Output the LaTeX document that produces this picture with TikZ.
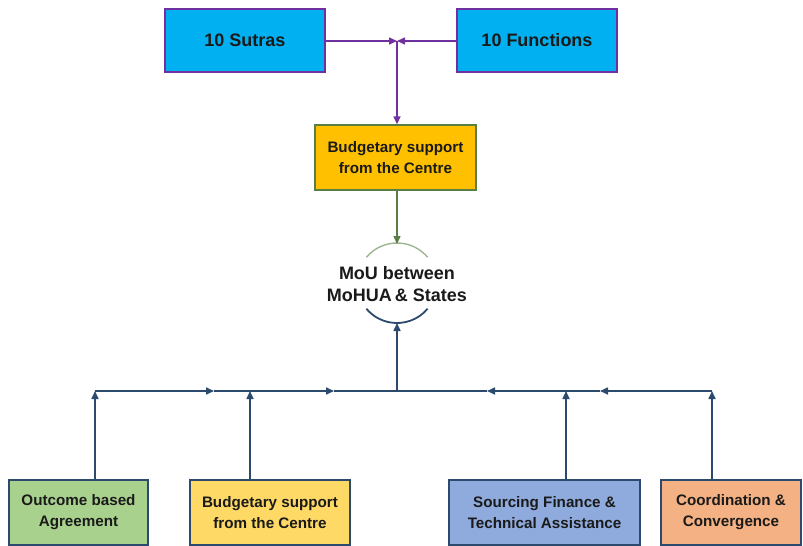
\documentclass[tikz,border=0pt]{standalone}
\usepackage{fontspec}
\setmainfont{Liberation Sans}
\usetikzlibrary{arrows.meta}
\definecolor{sky}{HTML}{00B0F0}
\definecolor{violet}{HTML}{7030A0}
\definecolor{gold}{HTML}{FFC000}
\definecolor{leaf}{HTML}{5A7F45}
\definecolor{navy}{HTML}{2B4A6E}
\definecolor{mougreen}{HTML}{9FB58F}
\definecolor{green1}{HTML}{A9D18E}
\definecolor{yellow1}{HTML}{FFD966}
\definecolor{blue1}{HTML}{8FAADC}
\definecolor{orange1}{HTML}{F4B183}
\definecolor{ink}{HTML}{1A1A1A}
\begin{document}
\begin{tikzpicture}[x=1pt,y=-1pt,
    tip/.style={-{Triangle[length=8pt,width=7pt]}},
    topbox/.style={draw=violet,line width=1.4pt,fill=sky,minimum width=160pt,minimum height=63pt,
        font=\fontsize{18}{21}\selectfont\bfseries,text=ink},
    midbox/.style={draw=leaf,line width=1.4pt,fill=gold,minimum width=161pt,minimum height=65pt,
        align=center,font=\fontsize{15.2}{21}\selectfont\bfseries,text=ink},
    lowbox/.style={draw=navy,line width=1.4pt,minimum height=65pt,align=center,
        font=\fontsize{15.2}{21}\selectfont\bfseries,text=ink}]
  \useasboundingbox (0,0) rectangle (803,546);
  % top row
  \node[topbox] (sutras) at (245,40.5) {10 Sutras};
  \node[topbox] (functions) at (537,40.5) {10 Functions};
  \coordinate (j) at (397,41);
  \node[midbox] (budget) at (395.5,157.5) {Budgetary support\\from the Centre};
  \draw[tip,violet,line width=1.4pt] (sutras.east |- j) -- (j);
  \draw[tip,violet,line width=1.4pt] (functions.west |- j) -- (j);
  \draw[tip,violet,line width=1.4pt] (j) -- (budget.north -| j);
  % MoU
  \node[align=center,font=\fontsize{18}{22}\selectfont\bfseries,text=ink] (mou) at (397,284) {MoU between\\MoHUA\,\& States};
  \draw[mougreen,line width=1.4pt] (397,283) ++(220:40) arc (220:320:40);
  \draw[navy,line width=1.8pt] (397,283) ++(40:40) arc (40:140:40);
  \coordinate (mtop) at (397,244);
  \coordinate (mbot) at (397,323);
  \draw[tip,leaf,line width=1.4pt] (budget.south -| mtop) -- (mtop);
  % bottom row
  \node[lowbox,fill=green1,minimum width=139pt] (outcome) at (78.5,512.5) {Outcome based\\Agreement};
  \node[lowbox,fill=yellow1,minimum width=160pt] (budget2) at (270,512.5) {Budgetary support\\from the Centre};
  \node[lowbox,fill=blue1,minimum width=191pt] (sourcing) at (544.5,512.5) {Sourcing Finance \&\\Technical Assistance};
  \node[lowbox,fill=orange1,minimum width=140pt] (coord) at (731,512.5) {Coordination \&\\Convergence};
  % bus
  \coordinate (b1) at (95,391);
  \coordinate (b2) at (250,391);
  \coordinate (bm) at (397,391);
  \coordinate (b3) at (566,391);
  \coordinate (b4) at (712,391);
  \coordinate (a1) at (214,391);
  \coordinate (a2) at (334,391);
  \coordinate (a3) at (487,391);
  \coordinate (a4) at (600,391);
  \begin{scope}[navy,line width=1.6pt]
    \draw[tip] (outcome.north -| b1) -- (b1);
    \draw[tip] (budget2.north -| b2) -- (b2);
    \draw[tip] (sourcing.north -| b3) -- (b3);
    \draw[tip] (coord.north -| b4) -- (b4);
    \draw[tip] (b1) -- (a1);
    \draw (a1) -- (b2);
    \draw[tip] (b2) -- (a2);
    \draw (a2) -- (bm);
    \draw[tip] (b4) -- (a4);
    \draw (a4) -- (b3);
    \draw[tip] (b3) -- (a3);
    \draw (a3) -- (bm);
    \draw[tip] (bm) -- (mbot);
  \end{scope}
\end{tikzpicture}
\end{document}
